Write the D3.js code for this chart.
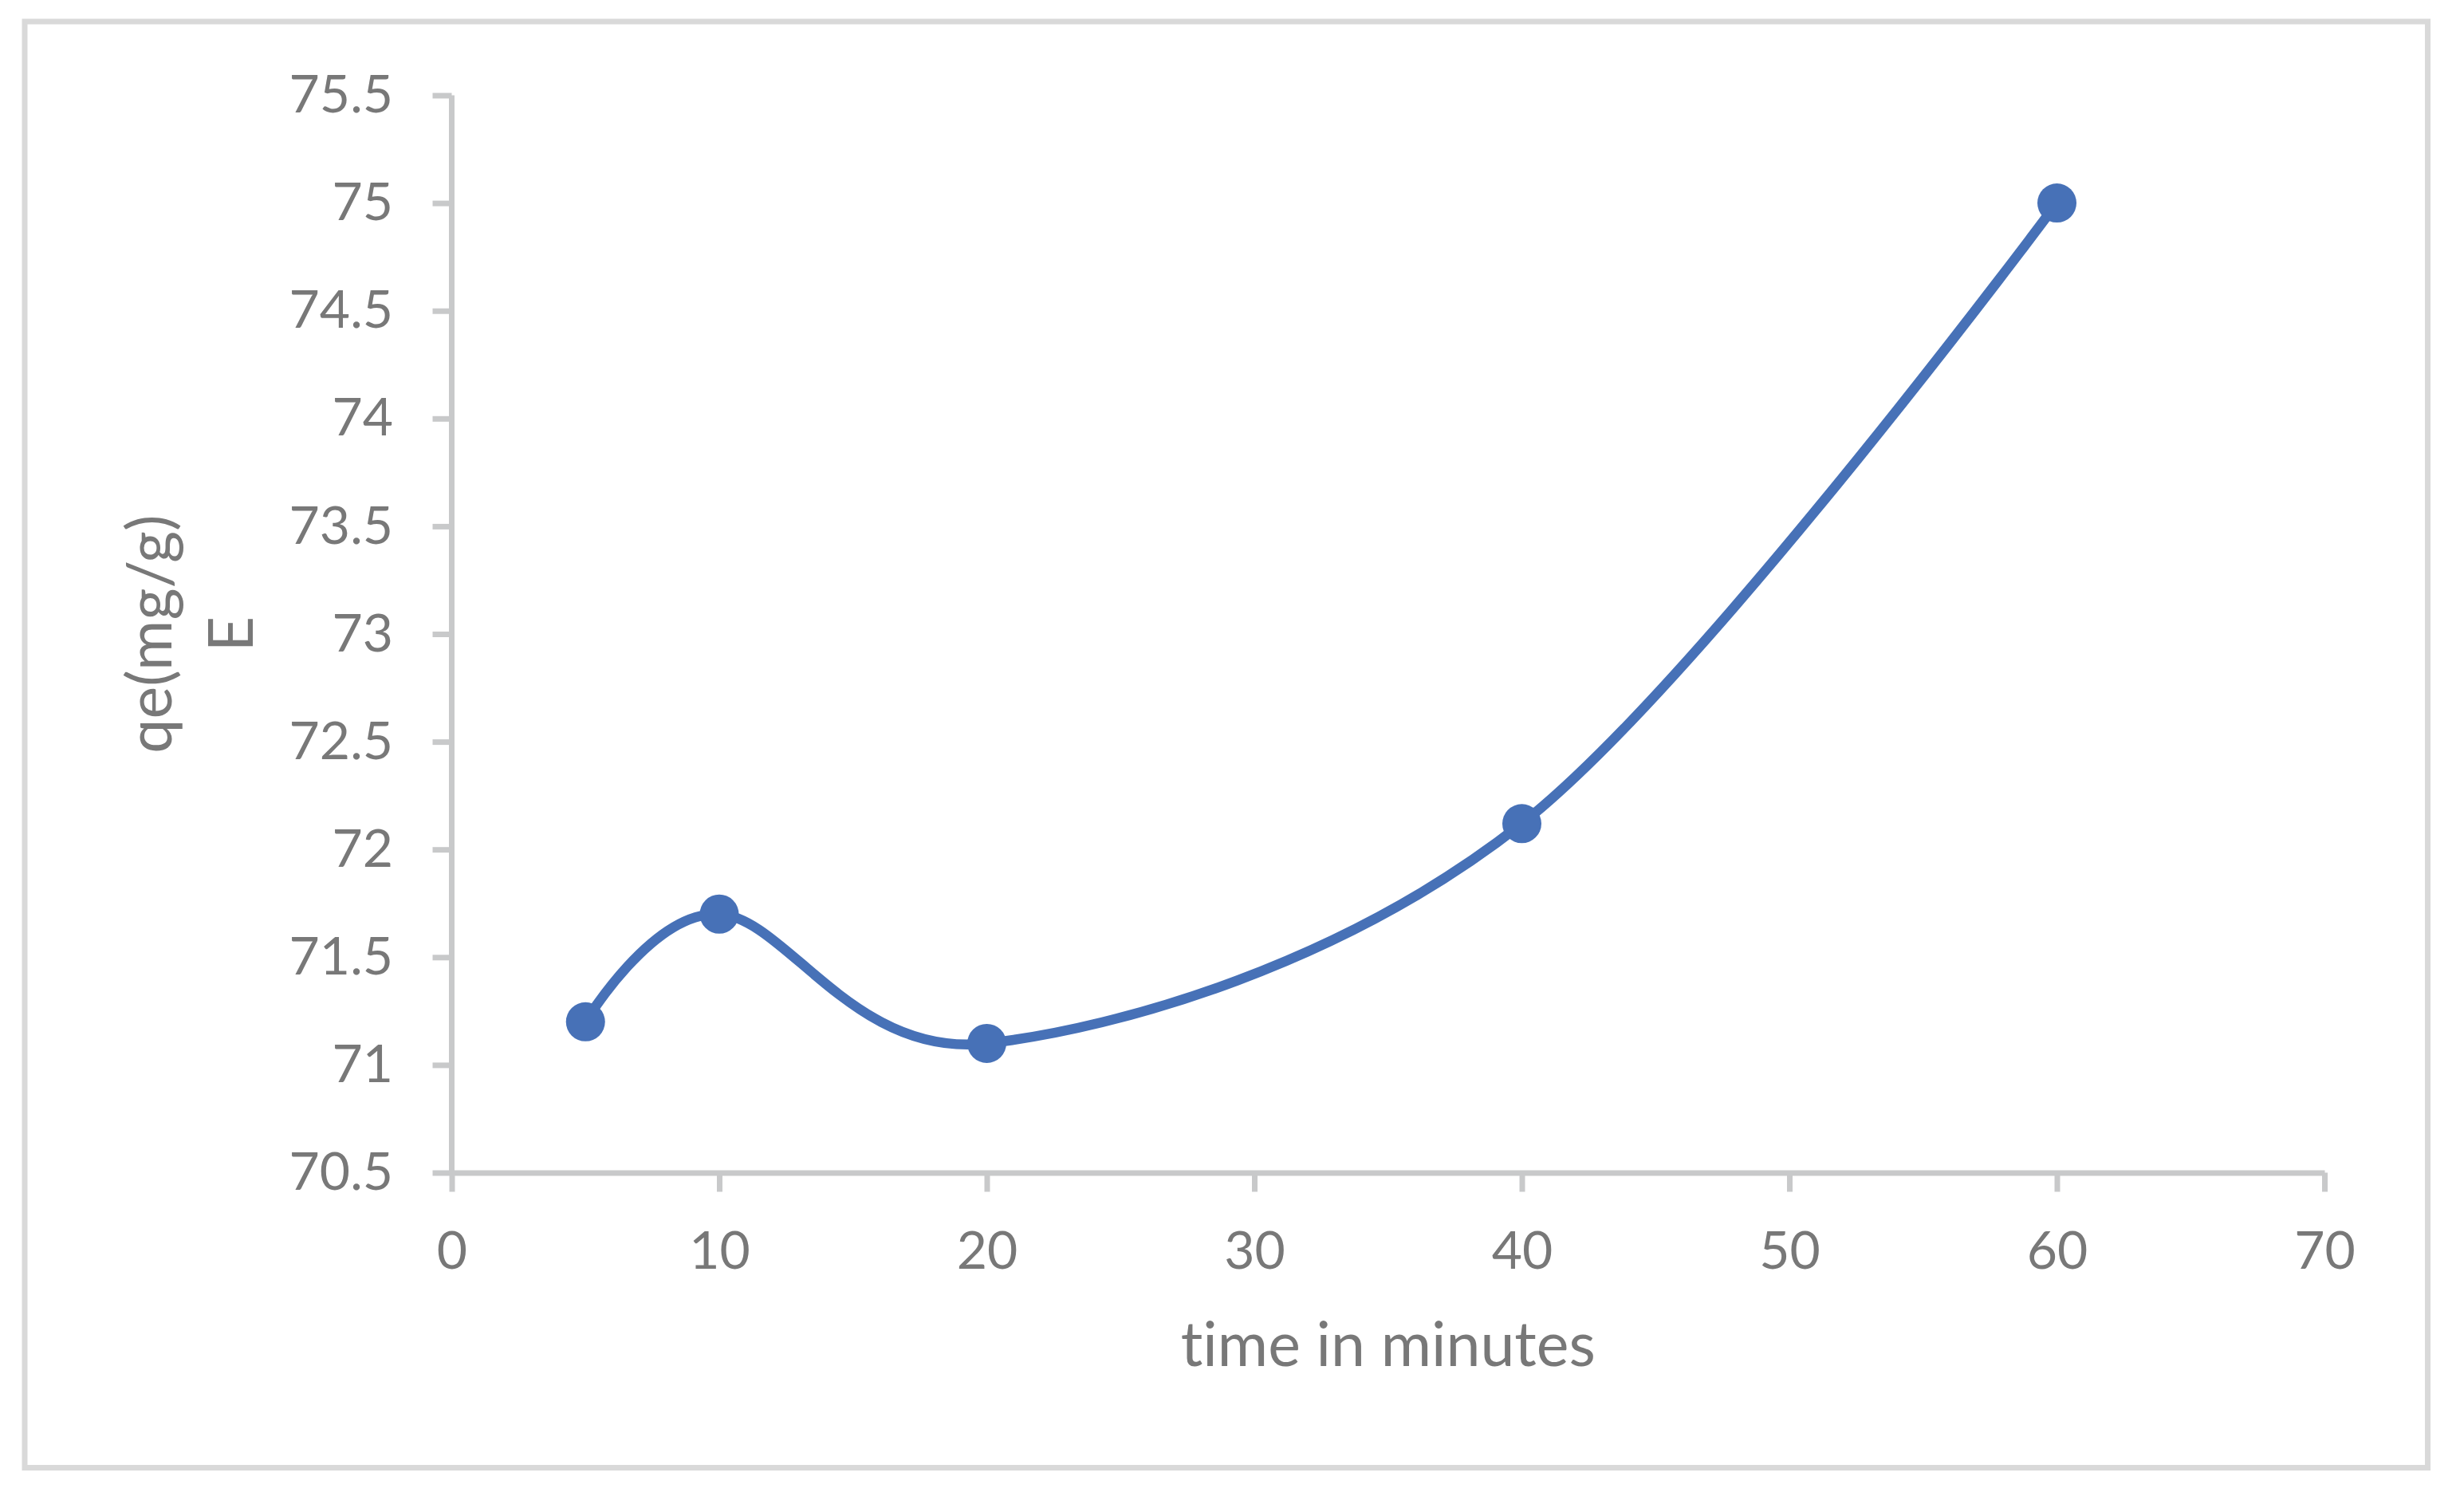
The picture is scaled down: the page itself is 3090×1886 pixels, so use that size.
<!DOCTYPE html>
<html>
<head>
<meta charset="utf-8">
<script src="https://cdn.jsdelivr.net/npm/d3@7"></script>
<style>
  html, body { margin: 0; padding: 0; background: #fff; }
  svg { display: block; }
  text { font-family: Lato, "Open Sans", "Liberation Sans", sans-serif; fill: #787878; font-variant-ligatures: none; font-feature-settings: "liga" 0; }
</style>
</head>
<body>
<svg id="chart" width="3090" height="1886"></svg>
<script>
// ---- data ----
const timeMinutes = [5, 10, 20, 40, 60];
const qeValues = [71.2, 71.7, 71.1, 72.12, 75.0];
const xTicks = [0, 10, 20, 30, 40, 50, 60, 70];
const yTicks = [70.5, 71, 71.5, 72, 72.5, 73, 73.5, 74, 74.5, 75, 75.5];
const xTitle = "time in minutes";
const yTitleLines = ["qe(mg/g)", "E"];

// ---- layout ----
const W = 3090, H = 1886;
const plot = { left: 566.5, right: 2915, top: 119.5, bottom: 1470.5 };
const blue = "#4771B7";
const axisColor = "#C8C9CA";
const borderColor = "#D9D9D9";

const svg = d3.select("#chart");
svg.append("rect").attr("x", 0).attr("y", 0).attr("width", W).attr("height", H).attr("fill", "#fff");

// outer chart border
svg.append("rect")
  .attr("x", 31).attr("y", 27)
  .attr("width", 3013.5).attr("height", 1813.5)
  .attr("fill", "none").attr("stroke", borderColor).attr("stroke-width", 7);

const x = d3.scaleLinear().domain([0, 70]).range([plot.left, plot.right]);
const y = d3.scaleLinear().domain([70.5, 75.5]).range([plot.bottom, plot.top]);

// y axis
const yAxis = svg.append("g")
  .attr("transform", `translate(${plot.left},0)`)
  .call(d3.axisLeft(y).tickValues(yTicks).tickFormat(d => String(d))
    .tickSize(24).tickSizeOuter(0).tickPadding(49.5));
// x axis
const xAxis = svg.append("g")
  .attr("transform", `translate(0,${plot.bottom})`)
  .call(d3.axisBottom(x).tickValues(xTicks).tickFormat(d => String(d))
    .tickSize(24).tickSizeOuter(0).tickPadding(50));

[yAxis, xAxis].forEach(g => {
  g.select(".domain").attr("stroke", axisColor).attr("stroke-width", 7);
  g.selectAll(".tick line").attr("stroke", axisColor).attr("stroke-width", 7);
  g.selectAll(".tick text")
    .attr("fill", "#787878")
    .style("font-family", 'Lato, "Open Sans", sans-serif')
    .style("font-size", "66px");
});
// extend the y domain line down through x axis thickness
yAxis.select(".domain").attr("d", `M0,${plot.top}V${plot.bottom + 3.5}`);

// smoothed line
const line = d3.line()
  .x((d, i) => x(timeMinutes[i]))
  .y(d => y(d))
  .curve(d3.curveCardinal.tension(0));

svg.append("path")
  .datum(qeValues)
  .attr("d", line)
  .attr("fill", "none")
  .attr("stroke", blue)
  .attr("stroke-width", 12.5)
  .attr("stroke-linejoin", "round")
  .attr("stroke-linecap", "round");

// markers
svg.selectAll("circle.pt")
  .data(qeValues)
  .enter().append("circle")
  .attr("class", "pt")
  .attr("cx", (d, i) => x(timeMinutes[i]))
  .attr("cy", d => y(d))
  .attr("r", 24.5)
  .attr("fill", blue);

// x axis title
svg.append("text")
  .attr("x", (plot.left + plot.right) / 2)
  .attr("y", 1713)
  .attr("text-anchor", "middle")
  .style("font-size", "77px")
  .text(xTitle);

// y axis title (two lines, rotated)
const yt = svg.append("text")
  .attr("transform", `translate(215,${(plot.top + plot.bottom) / 2}) rotate(-90)`)
  .attr("text-anchor", "middle")
  .style("font-size", "77px");
yTitleLines.forEach((t, i) => {
  yt.append("tspan").attr("x", 0).attr("y", i * 102).text(t);
});
</script>
</body>
</html>
